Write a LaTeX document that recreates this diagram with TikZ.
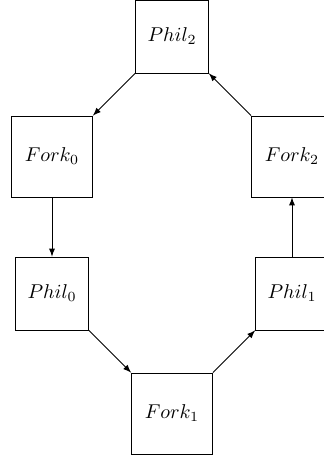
\documentclass[tikz,border=0pt]{standalone}
\usepackage{tikz}

\begin{document}
\begin{tikzpicture}[phil/.style = {draw, minimum size=36.5pt}, fork/.style = {draw, minimum size=40.5pt}, >=latex]
\useasboundingbox (0,0) rectangle (161.5pt,-228.5pt);
\node (phil2) [phil] at (86pt,-18.25pt) {$Phil_2$};
\node (fork0) [fork] at (26pt,-78.25pt) {$Fork_0$};
\node (fork2) [fork] at (146pt,-78.25pt) {$Fork_2$};
\node (phil0) [phil] at (26pt,-146.75pt) {$Phil_0$};
\node (phil1) [phil] at (146pt,-146.75pt) {$Phil_1$};
\node (fork1) [fork] at (86pt,-206.75pt) {$Fork_1$};
\draw[->] (phil2) -- (fork0);
\draw[->] (fork0) -- (phil0);
\draw[->] (phil0) -- (fork1);
\draw[->] (fork1) -- (phil1);
\draw[->] (phil1) -- (fork2);
\draw[->] (fork2) -- (phil2);
\end{tikzpicture}
\end{document}
